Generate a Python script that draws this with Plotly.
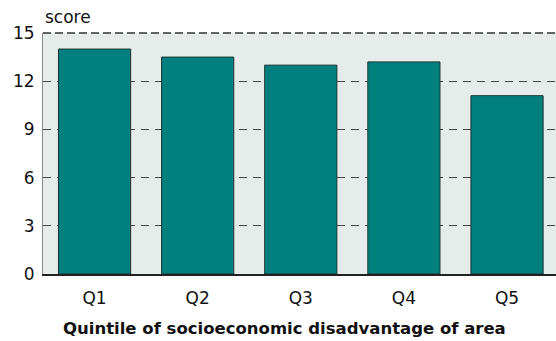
import plotly.graph_objects as go

categories = ["Q1", "Q2", "Q3", "Q4", "Q5"]
scores = [14.0, 13.5, 13.0, 13.2, 11.1]
y_ticks = [0, 3, 6, 9, 12, 15]

FONT = "DejaVu Sans"

fig = go.Figure(
    go.Bar(
        x=categories,
        y=scores,
        width=0.7,
        marker=dict(color="#007f7f", line=dict(color="#1c3333", width=1)),
        hoverinfo="x+y",
    )
)

fig.update_layout(
    width=556,
    height=341,
    margin=dict(l=43, r=0, t=33, b=67, autoexpand=False),
    paper_bgcolor="white",
    plot_bgcolor="#e5ecea",
    showlegend=False,
    font=dict(family=FONT, size=17, color="#111111"),
    xaxis=dict(
        type="category",
        range=[-0.5, 4.475],
        automargin=False,
        showline=True,
        linecolor="#222222",
        linewidth=1.5,
        showgrid=False,
        ticks="",
        ticklabelstandoff=8,
        tickfont=dict(family=FONT, size=17),
    ),
    yaxis=dict(
        range=[0, 15],
        tickvals=y_ticks,
        automargin=False,
        showline=True,
        linecolor="#888888",
        linewidth=1,
        showgrid=True,
        gridcolor="#444444",
        gridwidth=1,
        griddash="8px,6px",
        zeroline=False,
        ticks="",
        ticklabelstandoff=4,
        tickfont=dict(family=FONT, size=17),
    ),
    shapes=[
        dict(
            type="line",
            xref="paper",
            yref="paper",
            x0=0,
            x1=1,
            y0=1,
            y1=1,
            line=dict(color="#333333", width=1.5, dash="8px,4px"),
            layer="above",
        )
    ],
    annotations=[
        dict(
            text="score",
            xref="paper",
            yref="paper",
            x=0,
            y=1,
            xanchor="left",
            yanchor="bottom",
            yshift=4,
            showarrow=False,
            font=dict(family=FONT, size=17),
        ),
        dict(
            text="<b>Quintile of socioeconomic disadvantage of area</b>",
            xref="paper",
            yref="paper",
            x=0.47,
            y=0,
            xanchor="center",
            yanchor="middle",
            yshift=-54,
            showarrow=False,
            font=dict(family=FONT, size=16.5),
        ),
    ],
)

fig.write_html(
    "out.html",
    config={"displayModeBar": False},
    post_script="document.body.style.margin='0';",
)
